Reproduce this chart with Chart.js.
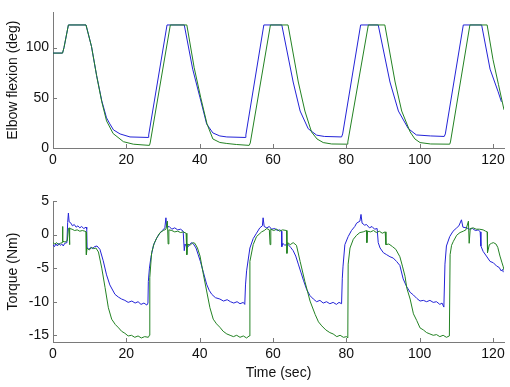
<!DOCTYPE html>
<html lang="en">
<head>
  <meta charset="UTF-8">
  <title>Elbow flexion and torque</title>
  <script src="https://cdn.jsdelivr.net/npm/chart.js"></script>
  <style>
    body {
      margin: 0;
      background: #fff;
    }
    .wrap {
      position: relative;
      width: 510px;
      height: 387px;
    }
    canvas {
      position: absolute;
      left: 0;
    }
    #elbowChart { top: 0; }
    #torqueChart { top: 180px; }
  </style>
</head>
<body>
  <div class="wrap">
    <canvas id="elbowChart" width="510" height="180"></canvas>
    <canvas id="torqueChart" width="510" height="207"></canvas>
  </div>

  <script>
    // tick labels
    const timeTicks = [0, 20, 40, 60, 80, 100, 120];
    const elbowTicks = [0, 50, 100];
    const torqueTicks = [-15, -10, -5, 0, 5];

    // elbow flexion (deg), [time s, value]
    const elbowBlue = [
      [0,94.5],[2.6,94.5],[3.0,100],[4.2,122.5],[9.0,122.5],[10.5,101],[11.9,72],[13.3,47],[14.6,30],[15.5,24],[16.5,18],[18.3,14],[21,11],[26,10.5],
      [26.1,13],[31.1,122.5],[35.8,122.5],[38.1,78.5],[40.1,50],[41.9,24],[43.6,15],[45.5,12],[47.4,11],[52.4,10.5],
      [52.6,13],[57.5,122.5],[62.4,122.5],[65.5,65.7],[67.4,36.8],[69.6,19.2],[71.9,12.8],[74,11.5],[78.7,11],
      [79,14],[83.9,122.5],[88.7,122.5],[91.9,65.7],[94.2,36.8],[96.9,19.3],[99.1,13],[103,12],[106.7,11.5],
      [107,14],[111.9,122.5],[116.9,122.5],[119.2,78.5],[121.4,56],[122.3,46]
    ];
    const elbowGreen = [
      [0,94.5],[2.6,94.5],[3.0,100],[4.2,122.5],[9.0,122.5],[10.5,101],[11.9,72],[13.3,46],[14.6,27],[16.4,14.4],[19.2,6.3],[21.9,3.8],[24,3.2],[26.3,2.6],
      [26.5,5],[32,122.5],[36.5,122.5],[38.5,80],[40.3,50],[42,24],[43.6,9],[45.5,5.5],[47.4,4.5],[50,3.5],[53.5,2.6],
      [53.8,5],[59.3,122.5],[64.1,122.5],[66.9,65.7],[68.7,36.8],[70.5,16],[72,9],[73.7,5.4],[76,4],[80.2,3.8],
      [80.4,6],[86,122.5],[90.5,122.5],[93.3,65.7],[95.1,36.8],[97.4,16],[98.7,9],[100.1,5.4],[103,4],[108.2,3.8],
      [108.4,6],[113.7,122.5],[118.4,122.5],[120,88],[121.5,63],[123,38]
    ];

    // torque (Nm), [time s, value]
    const torqueBlue = [
      [0,-1.5],[0.4,-1.8],[0.8,-1.4],[1.2,-1.7],[1.6,-1.3],[2.0,-1.6],[2.4,-1.4],[2.8,-1.7],[3.2,-1.3],[3.8,-1.2],[4.0,1.8],[4.2,3.2],[4.4,1.9],[4.9,1.7],[5.3,1.3],[5.8,1.5],[6.3,1.1],[6.8,1.3],[7.3,1.0],[7.8,1.2],[8.4,0.9],[9.0,1.1],[9.2,0.8],
      [9.3,-2.0],[9.8,-2.2],[10.3,-1.9],[10.8,-2.1],[11.3,-1.8],[12.0,-1.7],[12.8,-2.2],[13.7,-3.9],[14.6,-6.0],[15.5,-7.5],[16.9,-8.9],[17.8,-9.3],[18.7,-9.6],[19.6,-9.8],[20.5,-10.1],[21.5,-9.9],[22.4,-10.2],[23.2,-10.0],[24.0,-10.4],[24.8,-10.2],[25.6,-10.5],[25.9,-10.2],
      [26.0,-7.0],[26.3,-5.0],[26.7,-3.4],[27.4,-1.6],[28.2,-0.6],[29.0,0.1],[29.8,0.6],[30.5,1.0],[30.8,2.5],[31.0,1.1],[31.7,1.2],[32.4,0.8],[33.2,1.0],[34.0,0.7],[34.8,0.8],[35.5,0.5],
      [35.8,-2.4],[36.0,-1.4],[36.6,-2.0],[37.2,-1.5],[37.8,-1.2],[38.3,-1.4],[39.0,-2.0],[39.6,-3.0],[40.2,-4.0],[41.0,-5.6],[41.9,-7.4],[42.6,-8.3],[43.3,-8.9],[44.3,-9.4],[45.5,-9.6],[46.5,-9.9],[47.5,-9.7],[48.4,-10.0],[49.3,-10.2],[50.2,-10.0],[51.0,-10.3],[51.9,-10.1],[52.3,-10.4],
      [52.5,-7.5],[52.8,-5.4],[53.7,-2.0],[54.6,-0.6],[55.5,0.2],[56.4,1.0],[57.1,1.3],[57.3,2.5],[57.6,1.2],[58.3,1.0],[59.0,1.2],[59.6,0.8],[60.5,0.9],[61.2,0.6],[61.9,0.7],[62.3,0.5],
      [62.4,-1.8],[62.7,-1.3],[63.2,-1.6],[64.0,-1.4],[64.8,-1.9],[65.5,-2.4],[66.2,-3.2],[66.9,-4.4],[67.6,-5.6],[68.3,-6.8],[69.2,-8.2],[70.1,-9.1],[71.0,-9.6],[71.9,-10.0],[72.8,-9.8],[73.7,-10.2],[74.6,-10.0],[75.5,-10.3],[76.4,-10.1],[77.3,-10.4],[78.0,-10.1],[78.7,-10.3],
      [78.9,-6.5],[79.1,-4.7],[79.6,-1.5],[80.5,-0.3],[81.4,0.6],[82.3,1.2],[82.8,1.7],[83.7,2.0],[84.0,3.0],[84.3,1.7],[85.0,1.4],[85.5,1.5],[86.3,1.0],[87.0,1.2],[87.7,0.8],[88.4,0.9],
      [88.7,-1.2],[89.2,-2.0],[90.1,-2.7],[91.0,-3.0],[91.9,-3.3],[92.8,-3.5],[93.7,-4.0],[94.6,-4.6],[95.5,-6.6],[96.4,-7.7],[97.4,-8.6],[98.3,-9.0],[99.2,-9.5],[100.1,-9.9],[101.0,-9.8],[101.9,-10.0],[102.8,-9.8],[103.7,-10.1],[104.6,-10.0],[105.5,-10.4],[106.1,-10.2],[106.6,-10.8],
      [106.9,-4.4],[107.3,-1.7],[108.2,-0.3],[109.1,0.5],[110.1,1.0],[110.7,1.3],[111.4,2.2],[111.8,1.1],[112.8,1.0],[113.6,0.8],[114.4,0.9],[115.2,0.6],[116.0,0.7],[116.5,0.4],
      [116.7,-1.7],[117.3,-2.5],[118.2,-3.2],[119.2,-4.0],[120.1,-4.2],[121.0,-4.7],[121.7,-4.9],[122.2,-5.4],[122.6,-5.2],[122.8,-5.6]
    ];
    const torqueGreen = [
      [0,-1.2],[0.5,-1.4],[1.0,-1.2],[1.5,-1.5],[2.0,-1.3],[2.5,-1.2],[2.6,1.2],[2.7,-1.0],[3.3,-1.1],[3.9,-0.9],[4.2,0.9],[4.4,1.0],[4.5,-1.5],[4.6,0.9],[5.2,0.8],[5.9,0.6],[6.6,0.7],[7.3,0.5],[8.0,0.6],[8.7,0.5],[9.0,0.4],
      [9.1,-3.0],[9.3,-2.0],[9.9,-2.3],[10.5,-1.9],[11.1,-2.1],[11.7,-2.0],[12.4,-2.6],[13.3,-5.0],[14.2,-7.9],[15.1,-10.9],[16.0,-12.6],[17.0,-13.4],[17.9,-13.9],[18.7,-14.4],[19.6,-14.7],[20.5,-15.1],[21.4,-15.0],[22.3,-15.3],[23.2,-15.1],[24.1,-15.4],[25.0,-15.2],[26.0,-15.3],[26.3,-15.0],
      [26.4,-6.4],[26.9,-2.7],[27.6,-1.3],[28.4,-0.4],[29.2,0.3],[30.1,0.6],[30.8,0.8],[31.2,2.0],[31.4,-1.4],[31.6,0.7],[32.4,0.6],[33.2,0.4],[34.0,0.5],[34.8,0.3],[35.5,0.4],[36.3,0.2],
      [36.5,-3.0],[36.7,-1.4],[37.4,-1.6],[38.1,-1.2],[38.7,-1.3],[39.4,-2.0],[40.1,-3.2],[41.0,-5.9],[41.9,-8.4],[42.8,-10.9],[43.7,-12.6],[44.6,-13.3],[45.5,-13.8],[46.4,-14.4],[47.4,-14.8],[48.3,-15.0],[49.2,-15.2],[50.1,-15.0],[51.0,-15.3],[51.9,-15.1],[52.8,-15.4],[53.5,-15.1],
      [53.7,-4.0],[54.6,-1.5],[55.5,-0.3],[56.9,0.4],[57.6,0.6],[58.3,0.9],[59.0,0.7],[59.2,-1.5],[59.4,0.8],[60.2,0.6],[61.0,0.8],[61.8,0.5],[62.6,0.7],[63.7,0.6],
      [63.8,-2.8],[64.0,-1.2],[64.7,-1.5],[65.5,-1.2],[66.4,-1.6],[67.4,-4.0],[68.7,-7.0],[70.1,-9.9],[71.5,-11.9],[72.4,-13.0],[73.3,-13.6],[74.4,-14.2],[75.5,-14.6],[76.4,-14.8],[77.4,-15.2],[78.3,-15.0],[79.2,-15.3],[80.1,-15.2],[80.4,-15.4],
      [80.5,-4.4],[81.0,-2.0],[81.9,-0.7],[82.8,-0.1],[83.7,0.3],[84.6,0.4],[85.5,0.6],[85.6,-1.2],[85.8,0.5],[86.6,0.4],[87.4,0.6],[88.2,0.3],[89.0,0.5],[89.8,0.2],[90.6,0.4],
      [90.8,-1.5],[91.6,-1.4],[92.6,-1.8],[93.5,-2.2],[94.6,-3.3],[95.3,-4.7],[96.0,-6.2],[96.5,-8.0],[97.4,-9.6],[98.3,-11.8],[99.2,-12.8],[100.1,-13.9],[101.0,-14.2],[101.9,-14.6],[102.8,-14.8],[103.7,-15.0],[104.6,-14.9],[105.5,-15.2],[106.4,-15.0],[107.3,-15.3],[108.1,-15.1],
      [108.3,-3.0],[108.7,-1.6],[109.2,-1.0],[110.1,-0.1],[111.0,0.3],[111.9,0.5],[112.6,0.7],[113.3,2.0],[113.5,-1.3],[113.8,0.9],[114.6,1.0],[115.4,0.8],[116.3,0.8],[117.3,0.7],[118.0,0.5],[118.4,0.4],
      [118.5,-2.7],[119.0,-1.5],[119.6,-1.3],[120.1,-1.2],[120.8,-1.4],[121.3,-1.9],[121.9,-3.2],[122.4,-4.1],[122.8,-4.8],[123,-5.3]
    ];

    const BLUE = 'rgb(35,35,215)';
    const GREEN = 'rgb(35,130,35)';
    const AXIS = '#7a7a7a';
    const FONT = "'Liberation Sans', Arial, sans-serif";

    const toXY = arr => arr.map(p => ({ x: p[0], y: p[1] }));

    // MATLAB style ticks pointing inside the axes
    const innerTicks = {
      id: 'innerTicks',
      afterDraw(chart) {
        const { ctx, chartArea, scales } = chart;
        ctx.save();
        ctx.strokeStyle = AXIS;
        ctx.lineWidth = 1;
        ctx.beginPath();
        scales.x.ticks.forEach(t => {
          const px = Math.round(scales.x.getPixelForValue(t.value)) + 0.5;
          ctx.moveTo(px, chartArea.bottom);
          ctx.lineTo(px, chartArea.bottom - 4);
        });
        scales.y.ticks.forEach(t => {
          const py = Math.round(scales.y.getPixelForValue(t.value)) + 0.5;
          ctx.moveTo(chartArea.left, py);
          ctx.lineTo(chartArea.left + 4, py);
        });
        ctx.stroke();
        ctx.restore();
      }
    };

    function makeChart(id, blue, green, yMin, yMax, yTicks, yTitle, xTitle, padTop, xHeight) {
      return new Chart(document.getElementById(id), {
        type: 'line',
        data: {
          datasets: [
            { data: toXY(green), borderColor: GREEN, borderWidth: 1, pointRadius: 0, tension: 0 },
            { data: toXY(blue), borderColor: BLUE, borderWidth: 1, pointRadius: 0, tension: 0 }
          ]
        },
        options: {
          responsive: false,
          animation: false,
          devicePixelRatio: 1,
          layout: { padding: { left: 0, right: 6, top: padTop, bottom: 0 } },
          plugins: { legend: { display: false }, tooltip: { enabled: false } },
          scales: {
            x: {
              type: 'linear',
              min: 0,
              max: 123,
              afterBuildTicks: s => { s.ticks = timeTicks.map(v => ({ value: v })); },
              afterFit: s => { s.height = xHeight; },
              grid: { display: false, drawTicks: false },
              border: { display: true, color: AXIS, width: 1 },
              ticks: { color: '#111', font: { family: FONT, size: 14 }, padding: 4, maxRotation: 0 },
              title: {
                display: !!xTitle,
                text: xTitle,
                color: '#111',
                font: { family: FONT, size: 14 },
                padding: { top: 0, bottom: 5 }
              }
            },
            y: {
              min: yMin,
              max: yMax,
              afterBuildTicks: s => { s.ticks = yTicks.map(v => ({ value: v })); },
              afterFit: s => { s.width = 53; },
              grid: { display: false, drawTicks: false },
              border: { display: true, color: AXIS, width: 1 },
              ticks: { color: '#111', font: { family: FONT, size: 14 }, padding: 4 },
              title: {
                display: true,
                text: yTitle,
                color: '#111',
                font: { family: FONT, size: 14 },
                padding: { top: 5, bottom: 0 }
              }
            }
          }
        },
        plugins: [innerTicks]
      });
    }

    makeChart('elbowChart', elbowBlue, elbowGreen, 0, 135, elbowTicks, 'Elbow flexion (deg)', '', 7, 32);
    makeChart('torqueChart', torqueBlue, torqueGreen, -16, 5, torqueTicks, 'Torque (Nm)', 'Time (sec)', 21, 45);
  </script>
</body>
</html>
